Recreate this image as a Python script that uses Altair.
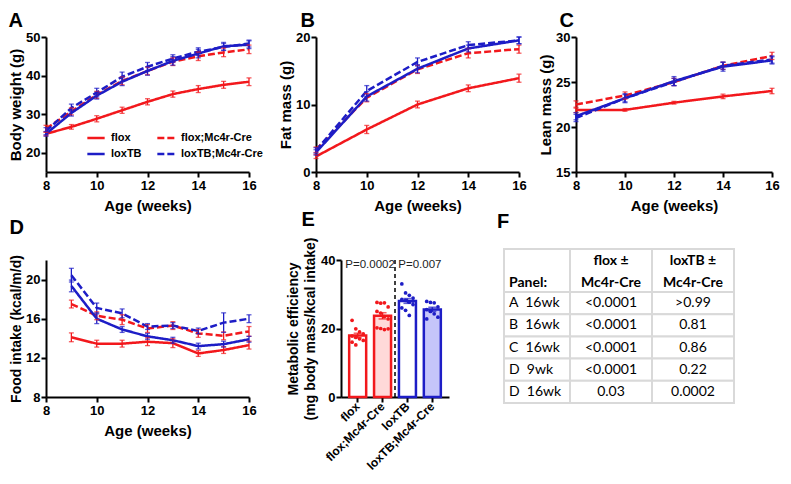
import altair as alt
import pandas as pd

# ---------------- data ----------------
GROUPS = ["flox", "flox;Mc4r-Cre", "loxTB", "loxTB;Mc4r-Cre"]
RED = "#f2181c"
BLUE = "#1d1dc6"
LINE_COLORS = [RED, RED, BLUE, BLUE]
DASHES = [[1, 0], [7, 3], [1, 0], [7, 3]]
BAR_FILLS = ["#ffffff", "#ffd9d9", "#ffffff", "#c5c5fa"]

# A: body weight (g)
weeks_a = [8, 9, 10, 11, 12, 13, 14, 15, 16]
bw_flox = [24.9, 26.7, 28.8, 31.0, 33.2, 35.2, 36.5, 37.6, 38.4]
bw_flox_cre = [26.2, 30.7, 35.0, 38.6, 41.2, 43.6, 45.0, 46.0, 46.8]
bw_loxtb = [24.9, 30.3, 34.8, 38.4, 41.2, 43.8, 45.7, 47.6, 48.0]
bw_loxtb_cre = [25.6, 31.6, 35.6, 39.7, 42.3, 44.4, 46.2, 47.4, 48.3]
bw_err_flox = [0.5, 0.6, 0.8, 0.8, 0.8, 0.8, 0.9, 0.9, 1.0]
bw_err_flox_cre = [0.9, 0.9, 0.9, 1.0, 1.0, 1.0, 1.1, 1.1, 1.1]
bw_err_loxtb = [0.6, 0.8, 0.9, 1.0, 1.1, 1.1, 1.1, 1.0, 1.0]
bw_err_loxtb_cre = [0.9, 1.0, 1.1, 1.2, 1.1, 1.0, 1.0, 0.9, 0.9]

# B: fat mass (g)
weeks_bc = [8, 10, 12, 14, 16]
fat_flox = [2.3, 6.3, 10.0, 12.4, 13.9]
fat_flox_cre = [3.3, 11.0, 15.2, 17.6, 18.2]
fat_loxtb = [2.9, 11.2, 15.3, 18.3, 19.5]
fat_loxtb_cre = [3.2, 12.0, 16.3, 18.8, 19.5]
fat_err_flox = [0.3, 0.6, 0.5, 0.5, 0.6]
fat_err_flox_cre = [0.4, 0.6, 0.6, 0.7, 0.6]
fat_err_loxtb = [0.4, 0.7, 0.6, 0.5, 0.5]
fat_err_loxtb_cre = [0.4, 0.8, 0.6, 0.5, 0.5]

# C: lean mass (g)
lean_flox = [21.9, 21.9, 22.7, 23.4, 24.0]
lean_flox_cre = [22.5, 23.5, 25.0, 26.8, 27.9]
lean_loxtb = [21.2, 23.2, 25.1, 26.7, 27.4]
lean_loxtb_cre = [21.0, 23.2, 25.0, 26.8, 27.5]
lean_err_flox = [0.3, 0.15, 0.15, 0.25, 0.3]
lean_err_flox_cre = [0.4, 0.4, 0.4, 0.4, 0.4]
lean_err_loxtb = [0.4, 0.5, 0.5, 0.5, 0.4]
lean_err_loxtb_cre = [0.4, 0.4, 0.4, 0.4, 0.4]

# D: food intake (kcal/m/d)
weeks_d = [9, 10, 11, 12, 13, 14, 15, 16]
food_flox = [14.1, 13.45, 13.45, 13.65, 13.5, 12.45, 12.8, 13.3]
food_flox_cre = [17.5, 16.3, 15.9, 15.0, 15.3, 14.5, 14.25, 14.7]
food_loxtb = [19.35, 16.0, 14.9, 14.2, 13.8, 13.2, 13.4, 13.9]
food_loxtb_cre = [20.45, 17.1, 16.55, 15.2, 15.3, 14.75, 15.6, 16.0]
food_err_flox = [0.45, 0.35, 0.35, 0.4, 0.45, 0.3, 0.35, 0.4]
food_err_flox_cre = [0.4, 0.4, 0.5, 0.4, 0.4, 0.4, 0.4, 0.5]
food_err_loxtb = [0.6, 0.5, 0.3, 0.3, 0.3, 0.3, 0.3, 0.3]
food_err_loxtb_cre = [0.7, 0.5, 0.45, 0.3, 0.3, 0.3, 1.0, 0.4]

# E: metabolic efficiency, individual animals
eff_flox = [22.4, 19.9, 19.0, 18.4, 17.8, 17.4, 17.0, 16.5, 16.0, 15.2]
eff_flox_cre = [27.6, 27.4, 27.5, 26.3, 25.0, 24.5, 23.5, 22.8, 20.2, 20.0, 19.7, 19.9]
eff_loxtb = [33.0, 30.4, 29.7, 28.9, 28.5, 28.2, 27.7, 27.0, 26.0, 25.3, 23.8, 28.0]
eff_loxtb_cre = [27.9, 27.6, 27.5, 26.3, 25.5, 25.0, 24.3, 23.3, 22.8]
p_texts = ["P=0.0002", "P=0.007"]

# F: table
tbl_header = ["Panel:", "flox ±\nMc4r-Cre", "loxTB ±\nMc4r-Cre"]
tbl_panels = ["A  16wk", "B  16wk", "C  16wk", "D  9wk", "D  16wk"]
tbl_flox = ["<0.0001", "<0.0001", "<0.0001", "<0.0001", "0.03"]
tbl_loxtb = [">0.99", "0.81", "0.86", "0.22", "0.0002"]

FONT = "Liberation Sans"
AXIS_COMMON = dict(labelOverlap=False, labelFlush=False)


def letter_title(letter, dx, offset):
    return alt.TitleParams(text=letter, anchor="start", frame="bounds", fontSize=20,
                           font=FONT, fontWeight="bold", color="black", dx=dx, offset=offset)


color_scale = alt.Scale(domain=GROUPS, range=LINE_COLORS)
dash_scale = alt.Scale(domain=GROUPS, range=DASHES)


def line_panel(x, series, errs, ydom, yvals, ytitle, w, h, letter, ldx, loff,
               legend=False, ytitle_size=15):
    rows = []
    for g, ys, es in zip(GROUPS, series, errs):
        for xv, yv, ev in zip(x, ys, es):
            rows.append({"x": xv, "y": yv, "g": g, "lo": yv - ev, "hi": yv + ev})
    df = pd.DataFrame(rows)
    xs = alt.Scale(domain=[8, 16], nice=False, zero=False)
    ys = alt.Scale(domain=ydom, nice=False, zero=False)
    xaxis = alt.Axis(values=[8, 9, 10, 11, 12, 13, 14, 15, 16],
                     labelExpr="(datum.value % 2 == 0) ? datum.label : ''",
                     tickSize={"condition": {"test": "datum.value % 2 == 0", "value": 5}, "value": 3},
                     title="Age (weeks)", titleFontSize=15, titlePadding=6, labelPadding=2,
                     **AXIS_COMMON)
    yaxis = alt.Axis(values=yvals, tickSize=5, title=ytitle, titleFontSize=ytitle_size,
                     titlePadding=2, labelPadding=1, **AXIS_COMMON)
    if legend:
        order = [GROUPS[0], GROUPS[2], GROUPS[1], GROUPS[3]]
        leg = alt.Legend(title=None, orient="none", legendX=40, legendY=91, columns=2,
                         values=order, symbolType="stroke", symbolStrokeWidth=2.5,
                         symbolSize=300, labelFont=FONT, labelFontWeight="bold",
                         labelFontSize=11, labelColor="black", columnPadding=10,
                         rowPadding=1, labelOffset=5)
    else:
        leg = None
    base = alt.Chart(df)
    lines = base.mark_line(strokeWidth=2.5).encode(
        x=alt.X("x:Q", scale=xs, axis=xaxis),
        y=alt.Y("y:Q", scale=ys, axis=yaxis),
        color=alt.Color("g:N", scale=color_scale, legend=leg),
        strokeDash=alt.StrokeDash("g:N", scale=dash_scale, legend=leg),
    )
    bars = base.mark_rule(strokeWidth=1.3).encode(
        x="x:Q", y="lo:Q", y2="hi:Q",
        color=alt.Color("g:N", scale=color_scale, legend=None))
    caps = base.transform_fold(["lo", "hi"], as_=["k", "v"]).mark_tick(
        orient="horizontal", size=5, thickness=1.3).encode(
        x="x:Q", y="v:Q", color=alt.Color("g:N", scale=color_scale, legend=None))
    return alt.layer(lines, bars, caps).properties(
        width=w, height=h, title=letter_title(letter, ldx, loff))


chart_a = line_panel(weeks_a, [bw_flox, bw_flox_cre, bw_loxtb, bw_loxtb_cre],
                     [bw_err_flox, bw_err_flox_cre, bw_err_loxtb, bw_err_loxtb_cre],
                     [15, 50], [20, 30, 40, 50], "Body weight (g)", 203, 135, "A", 0, 0,
                     legend=True)
chart_b = line_panel(weeks_bc, [fat_flox, fat_flox_cre, fat_loxtb, fat_loxtb_cre],
                     [fat_err_flox, fat_err_flox_cre, fat_err_loxtb, fat_err_loxtb_cre],
                     [0, 20], [0, 5, 10, 15, 20], "Fat mass (g)", 203, 135, "B", 22, 0)
chart_c = line_panel(weeks_bc, [lean_flox, lean_flox_cre, lean_loxtb, lean_loxtb_cre],
                     [lean_err_flox, lean_err_flox_cre, lean_err_loxtb, lean_err_loxtb_cre],
                     [15, 30], [15, 20, 25, 30], "Lean mass (g)", 196, 135, "C", 21, 0)
chart_d = line_panel(weeks_d, [food_flox, food_flox_cre, food_loxtb, food_loxtb_cre],
                     [food_err_flox, food_err_flox_cre, food_err_loxtb, food_err_loxtb_cre],
                     [8, 22], [8, 12, 16, 20], "Food intake (kcal/m/d)", 203, 137, "D", 0, 17,
                     ytitle_size=14)

# ---------------- E ----------------
erows = []
for g, vals in zip(GROUPS, [eff_flox, eff_flox_cre, eff_loxtb, eff_loxtb_cre]):
    for k, v in enumerate(vals):
        erows.append({"g": g, "v": v, "jit": ((k % 4) - 1.5) * 0.3})
df_e = pd.DataFrame(erows)
xe = alt.Scale(domain=GROUPS, paddingInner=0, paddingOuter=0.17)
ye = alt.Scale(domain=[0, 40], nice=False)
e_xaxis = alt.Axis(labelAngle=315, labelAlign="right", labelBaseline="middle", title=None,
                   tickSize=5, labelFontSize=12, labelPadding=2, labelOverlap=False)
e_yaxis = alt.Axis(values=[0, 10, 20, 30, 40], tickSize=5, titleFontSize=14, labelPadding=1,
                   title=["Metabolic efficiency", "(mg body mass/kcal intake)"], titleLineHeight=17,
                   titlePadding=3, labelOverlap=False)
ebase = alt.Chart(df_e)
e_bars = ebase.mark_bar(size=17, strokeWidth=2.5).encode(
    x=alt.X("g:N", scale=xe, axis=e_xaxis, sort=GROUPS),
    y=alt.Y("mean(v):Q", scale=ye, axis=e_yaxis),
    fill=alt.Fill("g:N", scale=alt.Scale(domain=GROUPS, range=BAR_FILLS), legend=None),
    stroke=alt.Stroke("g:N", scale=color_scale, legend=None),
)
e_dots = ebase.mark_circle(size=14, opacity=1).encode(
    x=alt.X("g:N", sort=GROUPS),
    xOffset=alt.XOffset("jit:Q", scale=alt.Scale(domain=[-1, 1])),
    y="v:Q", color=alt.Color("g:N", scale=color_scale, legend=None))
e_agg = ebase.transform_aggregate(m="mean(v)", se="stderr(v)", groupby=["g"]).transform_calculate(
    lo="datum.m - datum.se", hi="datum.m + datum.se")
e_err = e_agg.mark_rule(strokeWidth=1.5).encode(
    x=alt.X("g:N", sort=GROUPS), y="lo:Q", y2="hi:Q",
    color=alt.Color("g:N", scale=color_scale, legend=None))
e_caps = e_agg.transform_fold(["lo", "hi"], as_=["k", "vv"]).mark_tick(
    orient="horizontal", size=8, thickness=1.5).encode(
    x=alt.X("g:N", sort=GROUPS), y="vv:Q", color=alt.Color("g:N", scale=color_scale, legend=None))
divider = alt.Chart(pd.DataFrame({"b": [GROUPS[2]]})).mark_rule(
    strokeDash=[4, 3], strokeWidth=1.5, color="black").encode(
    x=alt.X("b:N", bandPosition=0, sort=GROUPS))
df_p = pd.DataFrame({"t": p_texts, "a": [GROUPS[0], GROUPS[2]], "py": [40 * 0.965] * 2})
e_p = alt.Chart(df_p).mark_text(font=FONT, fontSize=11.5, color="#222222").encode(
    x=alt.X("a:N", bandPosition=1, sort=GROUPS), y="py:Q", text="t:N")
chart_e = alt.layer(e_bars, e_dots, e_err, e_caps, divider, e_p).properties(
    width=108, height=137, title=letter_title("E", 15, 7))

# ---------------- F (table) ----------------
cells = [{"c": c, "c2": c + 1, "r": r, "r2": r + 1} for r in range(6) for c in range(3)]
df_cells = pd.DataFrame(cells)
trows = []
for c, h in enumerate(tbl_header):
    lines = h.split("\n")
    if len(lines) == 1:
        trows.append({"t": lines[0], "tx": c, "ty": 0.79, "kind": "hl"})
    else:
        trows.append({"t": lines[0], "tx": c + 0.5, "ty": 0.28, "kind": "hc"})
        trows.append({"t": lines[1], "tx": c + 0.5, "ty": 0.79, "kind": "hc"})
for r, (p, a, b) in enumerate(zip(tbl_panels, tbl_flox, tbl_loxtb)):
    trows.append({"t": p.replace("  ", " \u00a0"), "tx": 0, "ty": r + 1.5, "kind": "l"})
    trows.append({"t": a, "tx": 1.5, "ty": r + 1.5, "kind": "c"})
    trows.append({"t": b, "tx": 2.5, "ty": r + 1.5, "kind": "c"})
df_t = pd.DataFrame(trows)
tx = alt.Scale(domain=[0, 1, 2, 3], range=[0, 66, 148, 230])
ty = alt.Scale(domain=[0, 1, 6], range=[-11, 32, 143])
t_rect = alt.Chart(df_cells).mark_rect(fill="white", stroke="#d9d9d9", strokeWidth=2).encode(
    x=alt.X("c:Q", scale=tx, axis=None), x2="c2:Q",
    y=alt.Y("r:Q", scale=ty, axis=None), y2="r2:Q")
TFONT = "Lato"


def tlayer(kind, align, weight, dx=0):
    return alt.Chart(df_t).transform_filter(f"datum.kind == '{kind}'").mark_text(
        font=TFONT, fontSize=14, fontWeight=weight, align=align, dx=dx, color="black").encode(
        x=alt.X("tx:Q", scale=tx, axis=None), y=alt.Y("ty:Q", scale=ty, axis=None), text="t:N")


chart_f = alt.layer(t_rect, tlayer("hl", "left", "bold", 5), tlayer("hc", "center", "bold"),
                    tlayer("l", "left", "normal", 5), tlayer("c", "center", "normal")).properties(
    width=230, height=143, title=letter_title("F", -6, 16))

# ---------------- layout ----------------
IND = dict(color="independent", strokeDash="independent", fill="independent", stroke="independent")
LIND = dict(color="independent", strokeDash="independent")
top = alt.hconcat(chart_a,
                  alt.hconcat(chart_b, chart_c, spacing=57, bounds="flush")
                  .resolve_scale(**IND).resolve_legend(**LIND),
                  spacing=67, bounds="flush").resolve_scale(**IND).resolve_legend(**LIND)
bottom = alt.hconcat(chart_d,
                     alt.hconcat(chart_e, chart_f, spacing=55, bounds="flush")
                     .resolve_scale(**IND).resolve_legend(**LIND),
                     spacing=92, bounds="flush").resolve_scale(**IND).resolve_legend(**LIND)
chart = alt.vconcat(top, bottom, spacing=-3).resolve_scale(**IND).resolve_legend(
    **LIND
).properties(padding={"left": 0, "top": 3, "right": 0, "bottom": 0},
             background="white").configure_axis(
    domainColor="black", domainWidth=2, tickColor="black", tickWidth=2,
    labelColor="black", titleColor="black", labelFont=FONT, titleFont=FONT,
    labelFontWeight="bold", titleFontWeight="bold", labelFontSize=13,
    grid=False,
).configure_view(stroke=None)

chart.save("out.html", embed_options={"renderer": "svg", "actions": False})
